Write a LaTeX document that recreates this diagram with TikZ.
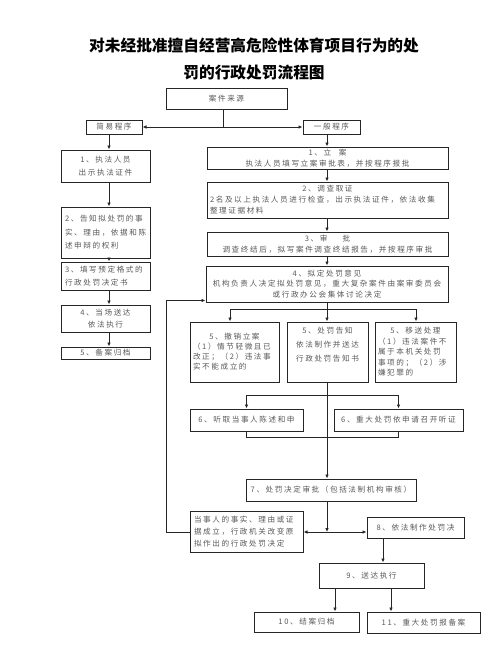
\documentclass[tikz,border=0pt]{standalone}
\usepackage{fontspec}
\setmainfont{Noto Sans CJK SC}
\newfontfamily\cjk[LetterSpace=21]{Noto Sans CJK SC}
\usetikzlibrary{arrows.meta,calc}
\begin{document}
\begin{tikzpicture}[x=1pt,y=-1pt,
  box/.style={draw=black!85, line width=1pt, inner sep=0pt, text=black!65, align=center,
    font=\cjk\fontsize{7.6}{11}\selectfont},
  lbox/.style={box, align=left, inner xsep=4pt},
  arr/.style={-{Latex[length=4pt,width=3.5pt]}, line width=0.9pt, draw=black!85},
  dbl/.style={{Latex[length=4pt,width=3.5pt]}-{Latex[length=4pt,width=3.5pt]}, line width=0.9pt, draw=black!85},
  ln/.style={line width=0.9pt, draw=black!85},
  titlefont/.style={font=\bfseries\fontsize{15.7}{27}\selectfont, align=center, inner sep=0pt}]
\useasboundingbox[fill=white] (0,0) rectangle (499,661);

\node[titlefont] (title) at (254,58.5) {对未经批准擅自经营高危险性体育项目行为的处\\罚的行政处罚流程图};

\node[box, minimum width=121, minimum height=21] (src) at (226.5,98.5) {案件来源};
\node[box, minimum width=56, minimum height=14] (simple) at (114,127) {简易程序};
\node[box, minimum width=57, minimum height=14] (general) at (331.5,127) {一般程序};

% left column
\node[box, font=\cjk\fontsize{7.6}{13}\selectfont, minimum width=89, minimum height=32] (L1) at (105.5,166) {1、执法人员\\出示执法证件};
\node[lbox, font=\cjk\fontsize{7.6}{13.5}\selectfont, text width=81, minimum height=51] (L2) at (105.5,232.5) {2、告知拟处罚的事\\实、理由，依据和陈\\述申辩的权利};
\node[lbox, font=\cjk\fontsize{7.6}{12.5}\selectfont, text width=81, minimum height=28] (L3) at (105.5,276) {3、填写预定格式的\\行政处罚决定书};
\node[box, font=\cjk\fontsize{7.6}{12.5}\selectfont, minimum width=89, minimum height=27] (L4) at (105.5,318.5) {4、当场送达\\依法执行};
\node[box, minimum width=89, minimum height=12] (L5) at (105.5,353) {5、备案归档};

% right column
\node[box, minimum width=241, minimum height=22] (R1) at (327.5,158) {1、立\quad 案\\执法人员填写立案审批表，并按程序报批};
\node[lbox, inner xsep=3pt, text width=235, minimum height=36] (R2) at (327.5,200) {\makebox[235pt]{2、调查取证}\\2名及以上执法人员进行检查，出示执法证件，依法收集\\整理证据材料};
\node[box, minimum width=241, minimum height=24] (R3) at (327.5,244) {3、审\quad\quad 批\\调查终结后，拟写案件调查终结报告，并按程序审批};
\node[box, font=\cjk\fontsize{7.6}{10.5}\selectfont, minimum width=242, minimum height=36] (R4) at (327,284) {4、拟定处罚意见\\机构负责人决定拟处罚意见，重大复杂案件由案审委员会\\或行政办公会集体讨论决定};

\node[lbox, inner xsep=3pt, font=\cjk\fontsize{7.6}{10}\selectfont, text width=83, minimum height=60] (R5a) at (234.5,352) {\makebox[83pt]{5、撤销立案}\\（1）情节轻微且已\\改正；（2）违法事\\实不能成立的\\[4pt]};
\node[box, font=\cjk\fontsize{7.6}{14}\selectfont, minimum width=81, minimum height=60] (R5b) at (327.5,352) {5、处罚告知\\依法制作并送达\\行政处罚告知书\\[2pt]};
\node[lbox, inner xsep=3pt, font=\cjk\fontsize{7.6}{10.5}\selectfont, text width=75, minimum height=60] (R5c) at (415.5,352) {\makebox[75pt]{5、移送处理}\\（1）违法案件不\\属于本机关处罚\\事项的；（2）涉\\嫌犯罪的};

\node[box, minimum width=113, minimum height=22] (R6a) at (246.5,420) {6、听取当事人陈述和申};
\node[box, minimum width=129, minimum height=22] (R6b) at (398.5,420) {6、重大处罚依申请召开听证};
\node[box, minimum width=170, minimum height=22] (R7) at (331,490) {7、处罚决定审批（包括法制机构审核）};
\node[lbox, font=\cjk\fontsize{7.6}{12}\selectfont, text width=105, minimum height=41] (party) at (246.5,531.5) {当事人的事实、理由或证\\据成立，行政机关改变原\\拟作出的行政处罚决定};
\node[box, minimum width=97, minimum height=21] (R8) at (415.5,527.5) {8、依法制作处罚决};
\node[box, minimum width=105, minimum height=25] (R9) at (371.5,575.5) {9、送达执行};
\node[box, minimum width=105, minimum height=20] (R10) at (306.5,622) {10、结案归档};
\node[box, minimum width=113, minimum height=21] (R11) at (423.5,622.5) {11、重大处罚报备案};

% connectors
\coordinate (stem) at (223,127);
\draw[ln] (src.south -| stem) -- (stem);
\draw[dbl] (simple.east) -- (general.west);

\coordinate (lc) at (109,0);
\draw[arr] (lc |- simple.south) -- (lc |- L1.north);
\draw[arr] (lc |- L1.south) -- (lc |- L2.north);
\draw[arr] (lc |- L2.south) -- (lc |- L3.north);
\draw[arr] (lc |- L3.south) -- (lc |- L4.north);
\draw[arr] (lc |- L4.south) -- (lc |- L5.north);

\coordinate (rc) at (327,0);
\draw[arr] (rc |- general.south) -- (rc |- R1.north);
\draw[arr] (rc |- R1.south) -- (rc |- R2.north);
\draw[arr] (rc |- R2.south) -- (rc |- R3.north);
\draw[arr] (rc |- R3.south) -- (rc |- R4.north);
\draw[arr] (rc |- R4.south) -- (rc |- R5b.north);

\coordinate (b5l) at (230,309);
\coordinate (b5r) at (416,309);
\draw[ln] (b5l) -- (b5r);
\draw[arr] (b5l) -- (b5l |- R5a.north);
\draw[arr] (b5r) -- (b5r |- R5c.north);

\draw[arr] (rc |- R5b.south) -- (rc |- R7.north);
\coordinate (t6) at (0,395);
\draw[ln] (R6a.north |- t6) -- (R6b.north |- t6);
\draw[arr] (R6a.north |- t6) -- (R6a.north);
\draw[arr] (R6b.north |- t6) -- (R6b.north);
\coordinate (b6) at (0,437);
\draw[ln] (R6a.south) -- (R6a.south |- b6) -- (R6b.south |- b6) -- (R6b.south);

\coordinate (b8) at (0,532);
\draw[arr] (rc |- R7.south) -- (rc |- b8);
\draw[dbl] (party.east |- b8) -- (R8.west |- b8);

\coordinate (lx) at (166,0);
\path (R4.south west) ++(0,-2) coordinate (r4in);
\draw[arr] (party.west |- b8) -- (lx |- b8) -- (lx |- r4in) -- (r4in);

\coordinate (c89) at (383,0);
\draw[arr] (c89 |- R8.south) -- (c89 |- R9.north);
\coordinate (c910) at (335,0);
\coordinate (c911) at (391,0);
\draw[arr] (c910 |- R9.south) -- (c910 |- R10.north);
\draw[arr] (c911 |- R9.south) -- (c911 |- R11.north);
\end{tikzpicture}
\end{document}
